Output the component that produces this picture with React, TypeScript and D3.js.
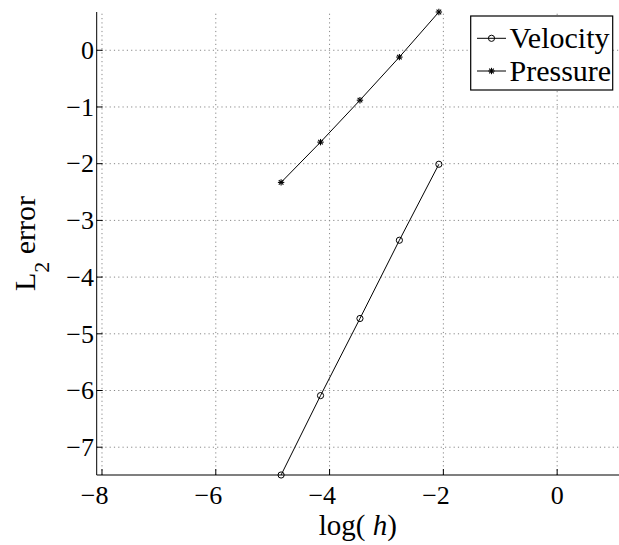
import React from "react";
import * as d3 from "d3";

const logH = [-4.852, -4.159, -3.466, -2.773, -2.079];
const velocityErr = [-7.49, -6.09, -4.73, -3.35, -2.01];
const pressureErr = [-2.33, -1.62, -0.88, -0.12, 0.675];
const xTicks = [-8, -6, -4, -2, 0];
const yTicks = [0, -1, -2, -3, -4, -5, -6, -7];
const seriesNames = ["Velocity", "Pressure"];

const W = 619;
const H = 545;
const FONT = "Liberation Serif";
const tStyle = { fontFamily: FONT } as React.CSSProperties;

export default function App() {
  const left = 96.7;
  const bottom = 475;
  const top = 12;
  const x = d3.scaleLinear().domain([-8.093, 1.08]).range([left, 618.6]);
  const y = d3
    .scaleLinear()
    .domain([d3.min(velocityErr) as number, d3.max(pressureErr) as number])
    .range([bottom, top]);

  const line = d3
    .line<[number, number]>()
    .x((d) => x(d[0]))
    .y((d) => y(d[1]));

  const vPts: [number, number][] = logH.map((h, i) => [h, velocityErr[i]]);
  const pPts: [number, number][] = logH.map((h, i) => [h, pressureErr[i]]);

  const star = (cx: number, cy: number, key: string | number) => {
    const r = 3.2;
    const d = r * 0.72;
    return (
      <g key={key} stroke="#000" strokeWidth={1.1}>
        <line x1={cx - r} y1={cy} x2={cx + r} y2={cy} />
        <line x1={cx} y1={cy - r} x2={cx} y2={cy + r} />
        <line x1={cx - d} y1={cy - d} x2={cx + d} y2={cy + d} />
        <line x1={cx - d} y1={cy + d} x2={cx + d} y2={cy - d} />
      </g>
    );
  };
  const circ = (cx: number, cy: number, key: string | number) => (
    <circle key={key} cx={cx} cy={cy} r={3.1} fill="none" stroke="#000" strokeWidth={1} />
  );

  const digitW = 13;

  return (
    <svg
      width={W}
      height={H}
      style={{ position: "absolute", left: 0, top: 0, background: "#fff" }}
    >
      <rect x={0} y={0} width={W} height={H} fill="#fff" />
      {/* grid */}
      <g stroke="#888" strokeWidth={1} strokeDasharray="1.2,3.1">
        {xTicks.map((t) => (
          <line key={"gx" + t} x1={x(t)} x2={x(t)} y1={bottom} y2={top} />
        ))}
        {yTicks.map((t) => (
          <line key={"gy" + t} x1={left} x2={W} y1={y(t)} y2={y(t)} />
        ))}
      </g>
      {/* axes */}
      <line x1={left} x2={left} y1={top} y2={bottom} stroke="#000" strokeWidth={1} />
      <line x1={left} x2={W} y1={bottom} y2={bottom} stroke="#000" strokeWidth={1.2} />
      {xTicks.map((t) => (
        <line key={"tx" + t} x1={x(t)} x2={x(t)} y1={bottom} y2={bottom - 6} stroke="#000" />
      ))}
      {yTicks.map((t) => (
        <line key={"ty" + t} x1={left} x2={left + 6} y1={y(t)} y2={y(t)} stroke="#000" />
      ))}
      {/* tick labels */}
      {xTicks.map((t) => (
        <text
          key={"lx" + t}
          x={x(t) + digitW / 2}
          y={503.5}
          fontSize={26}
          textAnchor="end"
          fill="#000"
          style={tStyle}
        >
          {t < 0 ? "\u2212" + Math.abs(t) : String(t)}
        </text>
      ))}
      {yTicks.map((t) => (
        <text
          key={"ly" + t}
          x={94}
          y={y(t) + 8.8}
          fontSize={26}
          textAnchor="end"
          fill="#000"
          style={tStyle}
        >
          {t < 0 ? "\u2212" + Math.abs(t) : String(t)}
        </text>
      ))}
      {/* axis labels */}
      <text
        x={(left + W) / 2}
        y={535}
        fontSize={29}
        textAnchor="middle"
        fill="#000"
        style={tStyle}
      >
        log(<tspan fontStyle="italic"> h</tspan>)
      </text>
      <text
        transform={`translate(35, ${(top + bottom) / 2}) rotate(-90)`}
        fontSize={30}
        textAnchor="middle"
        fill="#000"
        style={tStyle}
      >
        L
        <tspan fontSize={22} dy={14}>
          2
        </tspan>
        <tspan dy={-14}> error</tspan>
      </text>
      {/* series */}
      <path d={line(vPts) || ""} fill="none" stroke="#000" strokeWidth={1} />
      <path d={line(pPts) || ""} fill="none" stroke="#000" strokeWidth={1} />
      {vPts.map((p, i) => circ(x(p[0]), y(p[1]), "v" + i))}
      {pPts.map((p, i) => star(x(p[0]), y(p[1]), "p" + i))}
      {/* legend */}
      <rect x={470.7} y={16} width={142} height={74} fill="#fff" stroke="#000" strokeWidth={1.2} />
      {seriesNames.map((name, i) => {
        const cy = 38.3 + i * 32.7;
        return (
          <g key={name}>
            <line x1={477} x2={506} y1={cy} y2={cy} stroke="#000" strokeWidth={1} />
            {i === 0 ? circ(491.5, cy, "lc") : star(491.5, cy, "ls")}
            <text x={509.5} y={cy + 10} fontSize={30} fill="#000" style={tStyle}>
              {name}
            </text>
          </g>
        );
      })}
    </svg>
  );
}
